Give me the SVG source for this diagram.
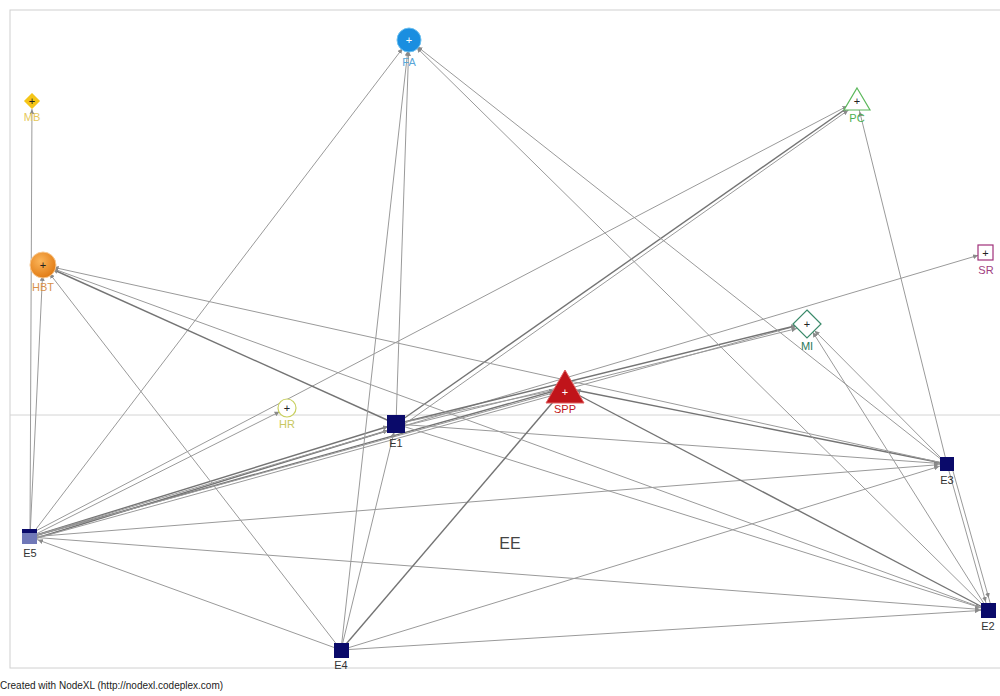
<svg xmlns="http://www.w3.org/2000/svg" width="1000" height="696" viewBox="0 0 1000 696">
<style>
.e{stroke:#9a9a9a;stroke-width:1;fill:none}
.d{stroke:#747474;stroke-width:1.4;fill:none}
.lb{font-family:"Liberation Sans",Arial,sans-serif;font-size:11px;text-anchor:middle}
.pl{font-family:"Liberation Sans",Arial,sans-serif;font-size:12px;text-anchor:middle;font-weight:bold}
</style>
<defs>
<marker id="a10" viewBox="0 0 6 6" refX="16" refY="3" markerWidth="5" markerHeight="5" markerUnits="userSpaceOnUse" orient="auto"><path d="M0,0 L6,3 L0,6 z" fill="#8a8a8a"/></marker>
<marker id="a14" viewBox="0 0 6 6" refX="19" refY="3" markerWidth="5" markerHeight="5" markerUnits="userSpaceOnUse" orient="auto"><path d="M0,0 L6,3 L0,6 z" fill="#8a8a8a"/></marker>
<radialGradient id="gHBT" cx="0.4" cy="0.35" r="0.7"><stop offset="0" stop-color="#fbb55a"/><stop offset="1" stop-color="#e07810"/></radialGradient>
</defs>
<rect x="0" y="0" width="1000" height="696" fill="#ffffff"/>
<rect x="10" y="10" width="995" height="658" fill="none" stroke="#d0d0d0" stroke-width="1"/>
<line x1="10" y1="415" x2="1000" y2="415" stroke="#d4d4d4" stroke-width="1"/>
<g id="edges">
<line class="e" x1="30" y1="537" x2="32" y2="101" marker-end="url(#a10)"/>
<line class="e" x1="30" y1="537" x2="43" y2="265" marker-end="url(#a14)"/>
<line class="e" x1="30" y1="537" x2="409" y2="40" marker-end="url(#a14)"/>
<line class="e" x1="30" y1="537" x2="287" y2="408" marker-end="url(#a10)"/>
<line class="e" x1="30" y1="534" x2="857" y2="101" marker-end="url(#a14)"/>
<line class="d" x1="30" y1="537" x2="396" y2="424" marker-end="url(#a10)"/>
<line class="d" x1="30" y1="540" x2="396" y2="428" marker-end="url(#a10)"/>
<line class="d" x1="30" y1="537" x2="565" y2="388" marker-end="url(#a14)"/>
<line class="e" x1="30" y1="540" x2="565" y2="392" marker-end="url(#a14)"/>
<line class="e" x1="30" y1="537" x2="807" y2="323" marker-end="url(#a14)"/>
<line class="e" x1="30" y1="537" x2="986" y2="253" marker-end="url(#a10)"/>
<line class="e" x1="30" y1="537" x2="947" y2="464" marker-end="url(#a10)"/>
<line class="e" x1="30" y1="537" x2="988" y2="610" marker-end="url(#a10)"/>
<line class="e" x1="341" y1="650" x2="30" y2="537" marker-end="url(#a10)"/>
<line class="e" x1="396" y1="424" x2="409" y2="40" marker-end="url(#a14)"/>
<line class="d" x1="396" y1="424" x2="43" y2="265" marker-end="url(#a14)"/>
<line class="d" x1="396" y1="424" x2="857" y2="101" marker-end="url(#a14)"/>
<line class="e" x1="399" y1="428" x2="857" y2="104" marker-end="url(#a14)"/>
<line class="d" x1="396" y1="424" x2="807" y2="323" marker-end="url(#a14)"/>
<line class="e" x1="396" y1="428" x2="807" y2="326" marker-end="url(#a14)"/>
<line class="e" x1="396" y1="424" x2="565" y2="388" marker-end="url(#a14)"/>
<line class="e" x1="396" y1="424" x2="947" y2="464" marker-end="url(#a10)"/>
<line class="e" x1="396" y1="424" x2="988" y2="610" marker-end="url(#a10)"/>
<line class="e" x1="341" y1="650" x2="396" y2="424" marker-end="url(#a10)"/>
<line class="e" x1="341" y1="650" x2="409" y2="40" marker-end="url(#a14)"/>
<line class="e" x1="341" y1="650" x2="43" y2="265" marker-end="url(#a14)"/>
<line class="d" x1="341" y1="650" x2="565" y2="388" marker-end="url(#a14)"/>
<line class="e" x1="341" y1="650" x2="947" y2="464" marker-end="url(#a10)"/>
<line class="e" x1="341" y1="650" x2="988" y2="610" marker-end="url(#a10)"/>
<line class="e" x1="947" y1="464" x2="409" y2="40" marker-end="url(#a14)"/>
<line class="e" x1="947" y1="464" x2="857" y2="101" marker-end="url(#a14)"/>
<line class="e" x1="947" y1="464" x2="807" y2="323" marker-end="url(#a14)"/>
<line class="d" x1="947" y1="464" x2="565" y2="388" marker-end="url(#a14)"/>
<line class="e" x1="947" y1="464" x2="43" y2="265" marker-end="url(#a14)"/>
<line class="e" x1="947" y1="464" x2="988" y2="610" marker-end="url(#a10)"/>
<line class="e" x1="951" y1="464" x2="991" y2="606" marker-end="url(#a10)"/>
<line class="e" x1="988" y1="610" x2="409" y2="40" marker-end="url(#a14)"/>
<line class="e" x1="988" y1="610" x2="807" y2="323" marker-end="url(#a14)"/>
<line class="d" x1="988" y1="610" x2="565" y2="388" marker-end="url(#a14)"/>
<line class="e" x1="988" y1="610" x2="43" y2="265" marker-end="url(#a14)"/>
</g>
<g id="node-FA"><circle cx="409" cy="40" r="12" fill="#1a8ee0" stroke="#6cc0f0" stroke-width="1"/><text x="409" y="44" fill="#ffffff" class="lb">+</text><text x="409" y="66" fill="#5aa6d8" class="lb">FA</text></g>
<g id="node-MB"><path d="M32,93 L40,101 L32,109 L24,101 z" fill="#f5c518" stroke="#f8e080" stroke-width="1"/><text x="32" y="105" fill="#222" class="lb">+</text><text x="32" y="121" fill="#e6c85a" class="lb">MB</text></g>
<g id="node-PC"><path d="M857,88 L870,110 L844,110 z" fill="#ffffff" stroke="#5cb85c" stroke-width="1.2"/><text x="857" y="105" fill="#222" class="lb">+</text><text x="857" y="122" fill="#4caf50" class="lb">PC</text></g>
<g id="node-SR"><rect x="978" y="245" width="15" height="15" fill="#ffffff" stroke="#a0307a" stroke-width="1.2"/><text x="985.5" y="257" fill="#222" class="lb">+</text><text x="986" y="274" fill="#a04080" class="lb">SR</text></g>
<g id="node-MI"><path d="M807,310 L821,324 L807,338 L793,324 z" fill="#ffffff" stroke="#3a8a6a" stroke-width="1.2"/><text x="807" y="328" fill="#222" class="lb">+</text><text x="807" y="350" fill="#2a7a5a" class="lb">MI</text></g>
<g id="node-HBT"><circle cx="43" cy="265" r="13" fill="url(#gHBT)" stroke="#f8c890" stroke-width="1"/><text x="43" y="269" fill="#222" class="lb">+</text><text x="43" y="291" fill="#d8904a" class="lb">HBT</text></g>
<g id="node-HR"><circle cx="287" cy="408" r="9" fill="#ffffff" stroke="#c8d060" stroke-width="1.2"/><text x="287" y="412" fill="#222" class="lb">+</text><text x="287" y="428" fill="#c8c860" class="lb">HR</text></g>
<g id="node-SPP"><path d="M565,370 L584,403 L546,403 z" fill="#c0141a" stroke="#e06060" stroke-width="1"/><text x="565" y="396" fill="#ffffff" class="lb">+</text><text x="565" y="413" fill="#c0141a" class="lb">SPP</text></g>
<g id="node-E1"><rect x="387" y="415" width="18" height="18" fill="#0a0a6a"/><text x="396" y="447" fill="#333" class="lb">E1</text></g>
<g id="node-E3"><rect x="940" y="457" width="14" height="14" fill="#0a0a6a"/><text x="947" y="484" fill="#333" class="lb">E3</text></g>
<g id="node-E2"><rect x="981" y="603" width="15" height="15" fill="#0a0a6a"/><text x="988" y="630" fill="#333" class="lb">E2</text></g>
<g id="node-E5"><rect x="22" y="529" width="15" height="15" fill="#7078b8"/><rect x="22" y="529" width="15" height="4" fill="#0a0a6a"/><text x="30" y="557" fill="#333" class="lb">E5</text></g>
<g id="node-E4"><rect x="334" y="643" width="15" height="15" fill="#0a0a6a"/><text x="341" y="669" fill="#333" class="lb">E4</text></g>
<text x="510" y="549" fill="#444" font-family="Liberation Sans, Arial, sans-serif" font-size="16" text-anchor="middle">EE</text>
<text x="0" y="689" fill="#222" font-family="Liberation Sans, Arial, sans-serif" font-size="10">Created with NodeXL (http://nodexl.codeplex.com)</text>
</svg>
